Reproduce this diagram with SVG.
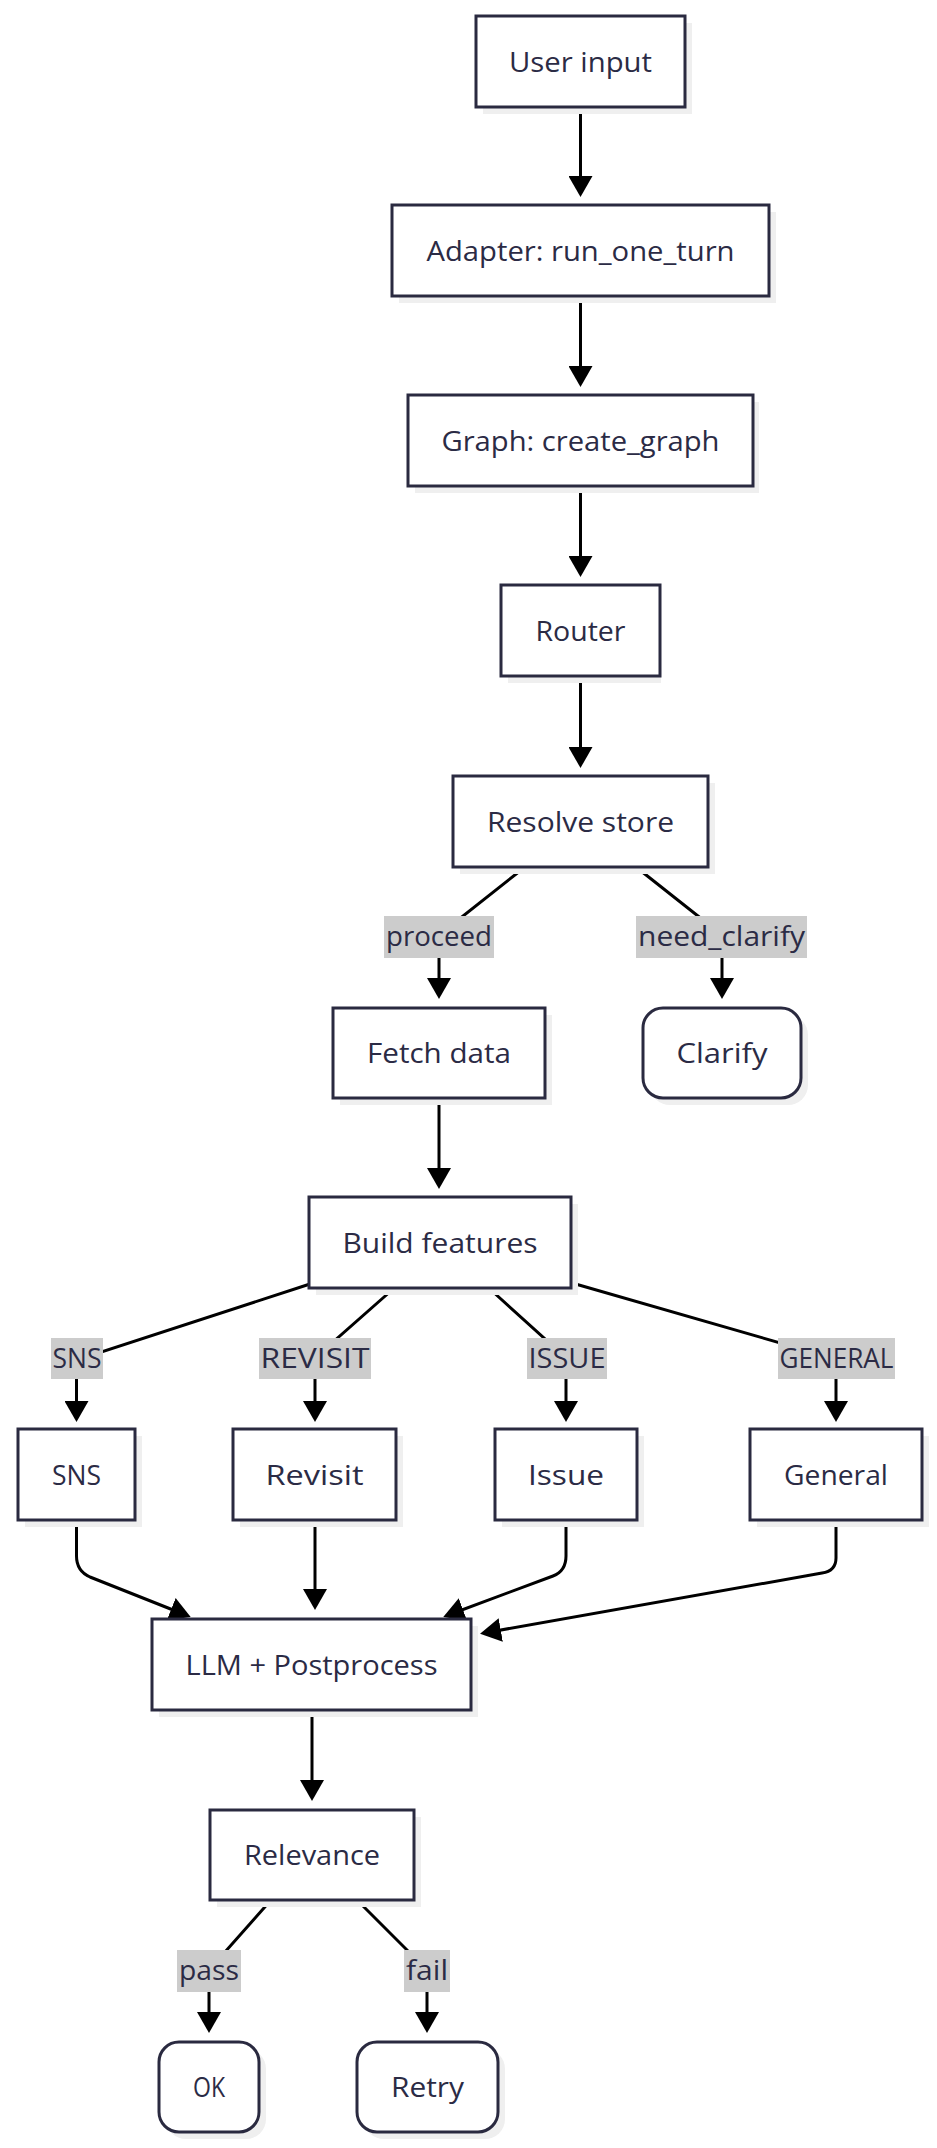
<svg xmlns="http://www.w3.org/2000/svg" width="937" height="2148" viewBox="0 0 937 2148">
<defs>
<marker id="ah" markerUnits="userSpaceOnUse" markerWidth="21" markerHeight="24" refX="17" refY="12" orient="auto" viewBox="0 0 21 24">
<path d="M0,0 L21,12 L0,24 Z" fill="#000"/>
</marker>
</defs>
<style>
.box{fill:#ffffff;stroke:#2a2a40;stroke-width:3}
.sh{fill:#efefef}
.t{font-family:"Open Sans","Noto Sans",sans-serif;font-size:28px;fill:#2b2b45;text-anchor:middle}
.lt{font-family:"Open Sans","Noto Sans",sans-serif;font-size:27px;fill:#2b2b45;text-anchor:middle}
.lb{fill:#cccccc}
.e{fill:none;stroke:#000;stroke-width:3;marker-end:url(#ah)}
</style>
<rect width="937" height="2148" fill="#ffffff"/>
<g id="connectors">
<path class="e" d="M580.5,107 L580.5,193"/>
<path class="e" d="M580.5,296 L580.5,383"/>
<path class="e" d="M580.5,486 L580.5,573"/>
<path class="e" d="M580.5,676 L580.5,764"/>
<path class="e" d="M525,867 L439,935 L439,995"/>
<path class="e" d="M636,867 L722,935 L722,995"/>
<path class="e" d="M439,1098 L439,1185"/>
<path class="e" d="M310,1284 L76.5,1360 L76.5,1418"/>
<path class="e" d="M392,1290 L315,1358 L315,1418"/>
<path class="e" d="M491,1290 L566,1358 L566,1418"/>
<path class="e" d="M572,1283 L836,1359 L836,1418"/>
<path class="e" d="M76.5,1520 L76.5,1556 Q76.5,1571 90,1577 L187,1615.5"/>
<path class="e" d="M315,1520 L315,1606"/>
<path class="e" d="M566,1520 L566,1556 Q566,1571 553,1576 L447,1615.5"/>
<path class="e" d="M836,1520 L836,1558 Q836,1571 822,1573 L484,1633"/>
<path class="e" d="M312,1710 L312,1797"/>
<path class="e" d="M271,1900 L209,1970 L209,2029"/>
<path class="e" d="M357,1900 L427,1970 L427,2029"/>
<g id="edge-labels">
<rect class="lb" x="384" y="916" width="110" height="42"/>
<text class="lt" x="439" y="946" textLength="106" lengthAdjust="spacingAndGlyphs">proceed</text>
<rect class="lb" x="636" y="916" width="171" height="42"/>
<text class="lt" x="721.5" y="946" textLength="167" lengthAdjust="spacingAndGlyphs">need_clarify</text>
<rect class="lb" x="51" y="1338" width="52" height="41"/>
<text class="lt" x="77" y="1368" textLength="49" lengthAdjust="spacingAndGlyphs">SNS</text>
<rect class="lb" x="259" y="1338" width="112" height="41"/>
<text class="lt" x="315" y="1368" textLength="109" lengthAdjust="spacingAndGlyphs">REVISIT</text>
<rect class="lb" x="527" y="1338" width="80" height="41"/>
<text class="lt" x="567" y="1368" textLength="77" lengthAdjust="spacingAndGlyphs">ISSUE</text>
<rect class="lb" x="778" y="1338" width="117" height="41"/>
<text class="lt" x="836.5" y="1368" textLength="114" lengthAdjust="spacingAndGlyphs">GENERAL</text>
<rect class="lb" x="177" y="1950" width="64" height="42"/>
<text class="lt" x="209" y="1980" textLength="60" lengthAdjust="spacingAndGlyphs">pass</text>
<rect class="lb" x="404" y="1950" width="46" height="42"/>
<text class="lt" x="427" y="1980" textLength="42" lengthAdjust="spacingAndGlyphs">fail</text>
</g>
</g>
<g id="n-user">
<rect class="sh" x="483" y="23" width="209" height="91"/>
<rect class="box" x="476" y="16" width="209" height="91"/>
<text class="t" x="580.5" y="71.5" textLength="143" lengthAdjust="spacingAndGlyphs">User input</text>
</g>
<g id="n-adapter">
<rect class="sh" x="399" y="212" width="377" height="91"/>
<rect class="box" x="392" y="205" width="377" height="91"/>
<text class="t" x="580.5" y="260.5" textLength="308" lengthAdjust="spacingAndGlyphs">Adapter: run_one_turn</text>
</g>
<g id="n-graph">
<rect class="sh" x="415" y="402" width="344" height="91"/>
<rect class="box" x="408" y="395" width="345" height="91"/>
<text class="t" x="580.5" y="450.5" textLength="278" lengthAdjust="spacingAndGlyphs">Graph: create_graph</text>
</g>
<g id="n-router">
<rect class="sh" x="508" y="592" width="153" height="91"/>
<rect class="box" x="501" y="585" width="159" height="91"/>
<text class="t" x="580.5" y="640.5" textLength="90" lengthAdjust="spacingAndGlyphs">Router</text>
</g>
<g id="n-resolve">
<rect class="sh" x="460" y="783" width="255" height="91"/>
<rect class="box" x="453" y="776" width="255" height="91"/>
<text class="t" x="580.5" y="831.5" textLength="187" lengthAdjust="spacingAndGlyphs">Resolve store</text>
</g>
<g id="n-fetch">
<rect class="sh" x="340" y="1015" width="212" height="90"/>
<rect class="box" x="333" y="1008" width="212" height="90"/>
<text class="t" x="439" y="1063" textLength="144" lengthAdjust="spacingAndGlyphs">Fetch data</text>
</g>
<g id="n-clarify">
<rect class="sh" x="650" y="1015" width="158" height="90" rx="20"/>
<rect class="box" x="643" y="1008" width="158" height="90" rx="20"/>
<text class="t" x="722" y="1063" textLength="91" lengthAdjust="spacingAndGlyphs">Clarify</text>
</g>
<g id="n-build">
<rect class="sh" x="316" y="1204" width="262" height="91"/>
<rect class="box" x="309" y="1197" width="262" height="91"/>
<text class="t" x="440" y="1252.5" textLength="195" lengthAdjust="spacingAndGlyphs">Build features</text>
</g>
<g id="n-sns">
<rect class="sh" x="25" y="1436" width="117" height="91"/>
<rect class="box" x="18" y="1429" width="117" height="91"/>
<text class="t" x="76.5" y="1484.5" textLength="49" lengthAdjust="spacingAndGlyphs">SNS</text>
</g>
<g id="n-revisit">
<rect class="sh" x="240" y="1436" width="163" height="91"/>
<rect class="box" x="233" y="1429" width="163" height="91"/>
<text class="t" x="314.5" y="1484.5" textLength="98" lengthAdjust="spacingAndGlyphs">Revisit</text>
</g>
<g id="n-issue">
<rect class="sh" x="502" y="1436" width="142" height="91"/>
<rect class="box" x="495" y="1429" width="142" height="91"/>
<text class="t" x="566" y="1484.5" textLength="76" lengthAdjust="spacingAndGlyphs">Issue</text>
</g>
<g id="n-general">
<rect class="sh" x="757" y="1436" width="172" height="91"/>
<rect class="box" x="750" y="1429" width="172" height="91"/>
<text class="t" x="836" y="1484.5" textLength="104" lengthAdjust="spacingAndGlyphs">General</text>
</g>
<g id="n-llm">
<rect class="sh" x="159" y="1626" width="319" height="91"/>
<rect class="box" x="152" y="1619" width="319" height="91"/>
<text class="t" x="311.5" y="1674.5" textLength="252" lengthAdjust="spacingAndGlyphs">LLM + Postprocess</text>
</g>
<g id="n-relevance">
<rect class="sh" x="217" y="1817" width="204" height="90"/>
<rect class="box" x="210" y="1810" width="204" height="90"/>
<text class="t" x="312" y="1865" textLength="136" lengthAdjust="spacingAndGlyphs">Relevance</text>
</g>
<g id="n-ok">
<rect class="sh" x="166" y="2049" width="100" height="90" rx="20"/>
<rect class="box" x="159" y="2042" width="100" height="90" rx="20"/>
<text class="t" x="209" y="2097" textLength="32" lengthAdjust="spacingAndGlyphs">OK</text>
</g>
<g id="n-retry">
<rect class="sh" x="364" y="2049" width="141" height="90" rx="20"/>
<rect class="box" x="357" y="2042" width="141" height="90" rx="20"/>
<text class="t" x="427.5" y="2097" textLength="73" lengthAdjust="spacingAndGlyphs">Retry</text>
</g>
</svg>
